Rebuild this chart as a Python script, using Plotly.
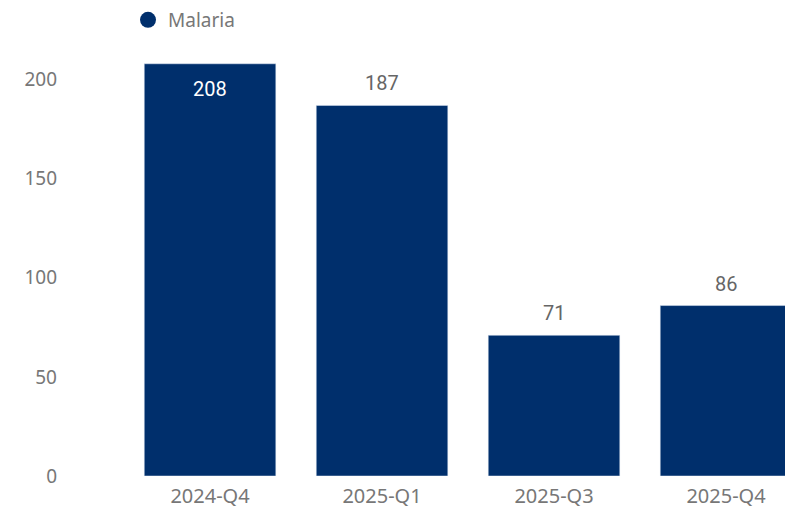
import plotly.graph_objects as go

categories = ["2024-Q4", "2025-Q1", "2025-Q3", "2025-Q4"]
values = [208, 187, 71, 86]
series_name = "Malaria"
y_ticks = [0, 50, 100, 150, 200]

bar_color = "#002F6C"
text_gray = "#777777"

fig = go.Figure()
fig.add_trace(go.Bar(
    x=categories, y=values, marker_color=bar_color, showlegend=False,
    hoverinfo="x+y",
))
fig.add_trace(go.Scatter(
    x=[None], y=[None], mode="markers", name=series_name,
    marker=dict(color=bar_color, size=20, symbol="circle"),
))

for i, (c, v) in enumerate(zip(categories, values)):
    inside = v > 200
    fig.add_annotation(
        x=c, y=v, text=str(v), showarrow=False,
        yshift=-25 if inside else 22,
        font=dict(family="Roboto", size=20, color="white" if inside else "#666666"),
    )

fig.update_layout(
    width=785, height=509,
    margin=dict(l=58, r=0, t=40, b=33, autoexpand=False),
    plot_bgcolor="white", paper_bgcolor="white",
    bargap=0.235,
    font=dict(family="Noto Sans", size=19, color=text_gray),
    legend=dict(x=0.0963, y=1.046, xanchor="left", yanchor="middle",
                font=dict(size=19, color=text_gray), itemsizing="trace"),
    xaxis=dict(range=[-0.884, 3.343], showgrid=False, showline=False,
               ticks="", ticklabelstandoff=6,
               tickfont=dict(size=20, color=text_gray)),
    yaxis=dict(range=[0, 220], tickvals=y_ticks, showgrid=False,
               zeroline=False, showline=False, ticks="",
               tickfont=dict(size=19, color=text_gray)),
)

fig.write_html("out.html", config={"displayModeBar": False},
               post_script="document.body.style.margin='0';document.body.style.overflow='hidden';")
